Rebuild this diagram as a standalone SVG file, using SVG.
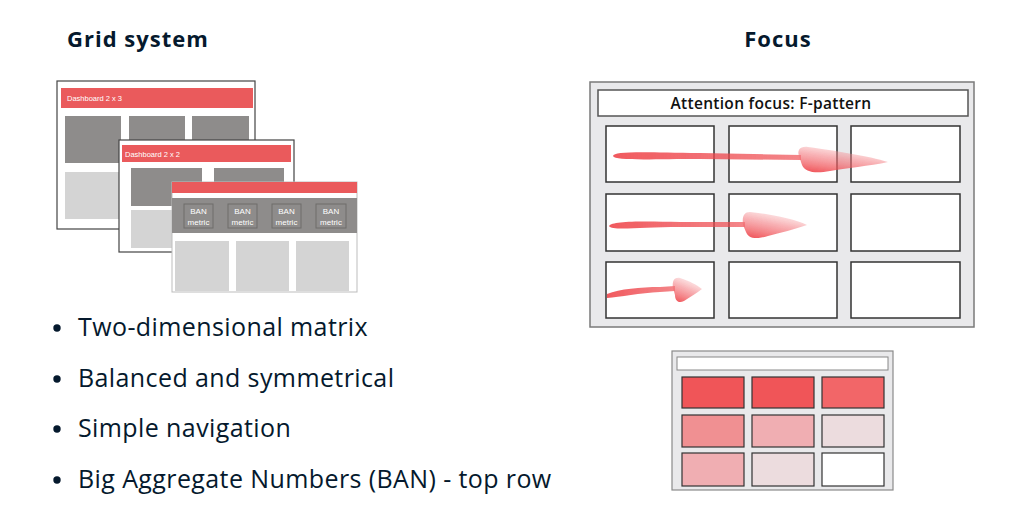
<svg xmlns="http://www.w3.org/2000/svg" width="1035" height="525" viewBox="0 0 1035 525">
  <defs>
    <style>
      .head { font-family: "Open Sans", "Liberation Sans", sans-serif; font-weight: 700; font-size: 22px; letter-spacing: 1px; fill: #05192d; }
      .bullet { font-family: "Open Sans", "Liberation Sans", sans-serif; font-size: 25px; letter-spacing: 0.4px; fill: #05192d; }
      .dot { fill: #05192d; }
      .card { fill: #ffffff; stroke: #444; stroke-width: 1.2; }
      .bar { fill: #ea5a5c; }
      .bartxt { font-family: "Liberation Sans", sans-serif; font-size: 7.5px; fill: #ffffff; }
      .dark { fill: #8e8c8b; }
      .light { fill: #d4d4d4; }
      .ban { fill: #8e8c8b; stroke: #6e6c6b; stroke-width: 1; }
      .bantxt { font-family: "Liberation Sans", sans-serif; font-size: 8px; fill: #ffffff; text-anchor: middle; }
      .panel { fill: #e9e9eb; stroke: #7a7a7a; stroke-width: 1.5; }
      .cell { fill: #ffffff; stroke: #333; stroke-width: 1.5; }
      .title { fill: #ffffff; stroke: #555; stroke-width: 1.5; }
      .ttxt { font-family: "Open Sans", "Liberation Sans", sans-serif; font-weight: 600; font-size: 15.5px; letter-spacing: 0.3px; fill: #111; text-anchor: middle; }
      .heat { stroke: #333; stroke-width: 1.2; }
      .stroke { opacity: 0.9; filter: url(#soft); }
    </style>
    <filter id="soft" x="-10%" y="-50%" width="120%" height="200%">
      <feGaussianBlur stdDeviation="0.7"/>
    </filter>
    <linearGradient id="shaft" x1="0" y1="0" x2="1" y2="0">
      <stop offset="0" stop-color="#ee3e44" stop-opacity="0.95"/>
      <stop offset="1" stop-color="#ee4a50" stop-opacity="0.75"/>
    </linearGradient>
    <linearGradient id="tip" x1="0.2" y1="1" x2="0.7" y2="0">
      <stop offset="0" stop-color="#ee3e44" stop-opacity="0.95"/>
      <stop offset="0.55" stop-color="#f27378" stop-opacity="0.6"/>
      <stop offset="1" stop-color="#f8b0b4" stop-opacity="0.25"/>
    </linearGradient>
  </defs>

  <rect width="1035" height="525" fill="#ffffff"/>

  <!-- Section headings -->
  <text class="head" x="67" y="47">Grid system</text>
  <text class="head" x="778" y="47" text-anchor="middle">Focus</text>

  <!-- Dashboard 2 x 3 -->
  <g id="dashboard-2x3">
    <rect class="card" x="57" y="81" width="198" height="148"/>
    <rect class="bar" x="61" y="88" width="192" height="20"/>
    <text class="bartxt" x="67" y="101">Dashboard 2 x 3</text>
    <rect class="dark" x="65" y="116" width="56" height="47"/>
    <rect class="dark" x="129" y="116" width="56" height="47"/>
    <rect class="dark" x="192" y="116" width="57" height="47"/>
    <rect class="light" x="65" y="172" width="56" height="47"/>
  </g>

  <!-- Dashboard 2 x 2 -->
  <g id="dashboard-2x2">
    <rect class="card" x="119" y="140" width="175" height="112"/>
    <rect class="bar" x="122" y="145" width="169" height="17"/>
    <text class="bartxt" x="125" y="156.5">Dashboard 2 x 2</text>
    <rect class="dark" x="131" y="168" width="71" height="38"/>
    <rect class="dark" x="214" y="168" width="70" height="38"/>
    <rect class="light" x="131" y="210" width="71" height="38"/>
  </g>

  <!-- BAN dashboard -->
  <g id="dashboard-ban">
    <rect x="172" y="182" width="185" height="110" fill="#ffffff" stroke="#bdbdbd" stroke-width="1"/>
    <rect class="bar" x="172" y="182" width="185" height="11"/>
    <rect class="dark" x="172" y="198" width="185" height="35"/>
    <rect class="ban" x="184" y="204" width="29" height="24"/>
    <rect class="ban" x="228" y="204" width="29" height="24"/>
    <rect class="ban" x="272" y="204" width="29" height="24"/>
    <rect class="ban" x="316" y="204" width="30" height="24"/>
    <text class="bantxt" x="198.5" y="214">BAN</text>
    <text class="bantxt" x="198.5" y="224.5">metric</text>
    <text class="bantxt" x="242.5" y="214">BAN</text>
    <text class="bantxt" x="242.5" y="224.5">metric</text>
    <text class="bantxt" x="286.5" y="214">BAN</text>
    <text class="bantxt" x="286.5" y="224.5">metric</text>
    <text class="bantxt" x="331" y="214">BAN</text>
    <text class="bantxt" x="331" y="224.5">metric</text>
    <rect class="light" x="175" y="241" width="54" height="50"/>
    <rect class="light" x="236" y="241" width="53" height="50"/>
    <rect class="light" x="296" y="241" width="53" height="50"/>
  </g>

  <!-- Bullet list -->
  <g id="bullets">
    <circle class="dot" cx="57" cy="328" r="3.7"/>
    <text class="bullet" x="78" y="336">Two-dimensional matrix</text>
    <circle class="dot" cx="57" cy="379" r="3.7"/>
    <text class="bullet" x="78" y="387">Balanced and symmetrical</text>
    <circle class="dot" cx="57" cy="429" r="3.7"/>
    <text class="bullet" x="78" y="437">Simple navigation</text>
    <circle class="dot" cx="57" cy="480" r="3.7"/>
    <text class="bullet" x="78" y="488">Big Aggregate Numbers (BAN) - top row</text>
  </g>

  <!-- F-pattern layout -->
  <g id="f-pattern">
    <rect class="panel" x="590" y="82" width="384" height="245"/>
    <rect class="title" x="598" y="90" width="370" height="26"/>
    <text class="ttxt" x="771" y="109">Attention focus: F-pattern</text>
    <rect class="cell" x="606" y="126" width="108" height="56"/>
    <rect class="cell" x="729" y="126" width="108" height="56"/>
    <rect class="cell" x="851" y="126" width="109" height="56"/>
    <rect class="cell" x="606" y="194" width="108" height="57"/>
    <rect class="cell" x="729" y="194" width="108" height="57"/>
    <rect class="cell" x="851" y="194" width="109" height="57"/>
    <rect class="cell" x="606" y="262" width="108" height="56"/>
    <rect class="cell" x="729" y="262" width="108" height="56"/>
    <rect class="cell" x="851" y="262" width="109" height="56"/>
  </g>

  <!-- Eye-movement strokes: tapered shaft plus brushed head -->
  <g id="connectors">
    <g class="stroke">
      <path d="M613,156 C614,151 640,152 700,153 L801,155 L801,160 L700,159 C650,159 615,161 613,156 Z" fill="url(#shaft)"/>
      <path d="M799,156 C797,150 800,146 808,147 C830,150 870,156 888,162 C870,166 845,168 830,171 C815,174 805,172 802,165 Z" fill="url(#tip)"/>
    </g>
    <g class="stroke">
      <path d="M609,226 C612,221 640,221 680,222 L745,222 L745,227 L680,227 C640,227 612,231 609,226 Z" fill="url(#shaft)"/>
      <path d="M743,225 C742,216 744,212 750,212 C770,214 795,219 807,225 C795,229 780,233 768,236 C755,240 748,238 746,232 Z" fill="url(#tip)"/>
    </g>
    <g class="stroke">
      <path d="M607,294 C620,289 640,287 660,287 L675,286 L675,291 L660,292 C640,293 620,297 607,298 Z" fill="url(#shaft)"/>
      <path d="M673,288 C672,281 674,277 680,278 C690,281 697,285 702,289 C697,293 690,297 684,301 C678,304 675,300 675,295 Z" fill="url(#tip)"/>
    </g>
  </g>

  <!-- Heatmap layout -->
  <g id="heatmap">
    <rect x="672" y="351" width="221" height="139" fill="#e9e9eb" stroke="#8a8a8a" stroke-width="1.2"/>
    <rect x="677" y="357" width="211" height="13" fill="#ffffff" stroke="#888" stroke-width="1"/>
    <rect class="heat" x="682" y="377" width="62" height="31" fill="#f05558"/>
    <rect class="heat" x="752" y="377" width="62" height="31" fill="#f05558"/>
    <rect class="heat" x="822" y="377" width="62" height="31" fill="#f26668"/>
    <rect class="heat" x="682" y="415" width="62" height="32" fill="#f09092"/>
    <rect class="heat" x="752" y="415" width="62" height="32" fill="#f0aeb2"/>
    <rect class="heat" x="822" y="415" width="62" height="32" fill="#ecdcde"/>
    <rect class="heat" x="682" y="453" width="62" height="33" fill="#f0aeb2"/>
    <rect class="heat" x="752" y="453" width="62" height="33" fill="#ecdcde"/>
    <rect class="heat" x="822" y="453" width="62" height="33" fill="#ffffff"/>
  </g>
</svg>
